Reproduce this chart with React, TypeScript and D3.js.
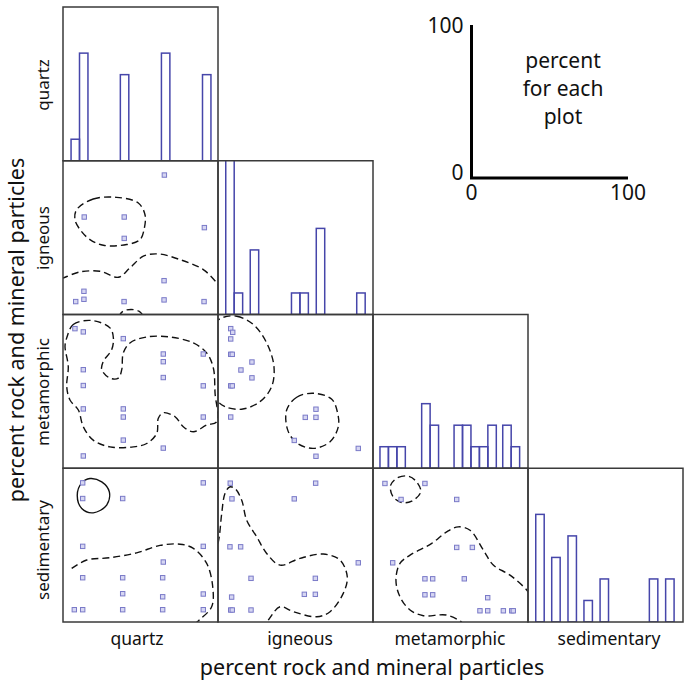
import React from "react";
import * as d3 from "d3";

// ---------- data ----------
const variables = ["quartz", "igneous", "metamorphic", "sedimentary"];
const axisTitle = "percent rock and mineral particles";
const keyTicks = ["0", "100"];
const keyLines = ["percent", "for each", "plot"];

// histograms: bin left edge (percent) and sample counts
const binWidth = 5.45;
const percentPerCount = 14;
const quartzBinStarts = [5.2, 10.65, 37, 63.5, 90];
const quartzCounts = [1, 5, 4, 5, 4];
const igneousBinStarts = [5, 10.45, 20.8, 47.4, 52.85, 63.4, 89.5];
const igneousCounts = [8, 1, 3, 1, 1, 4, 1];
const metamorphicBinStarts = [4.5, 9.95, 15.4, 31.4, 36.85, 52.3, 57.75, 63.2, 68.65, 74.1, 83.7, 89.15];
const metamorphicCounts = [1, 1, 1, 3, 2, 2, 2, 1, 1, 2, 2, 1];
const sedimentaryBinStarts = [5, 15.3, 25.8, 36.1, 46.5, 78.3, 88.8];
const sedimentaryCounts = [5, 3, 4, 1, 2, 2, 2];

// scatter points [x %, y %]
const igneousVsQuartz = [
  [65.4, 90.7], [13.7, 63.4], [39.5, 63.4], [39.5, 49.5], [91.2, 56.5], [65.2, 22],
  [13.5, 15.1], [8.2, 8.4], [13.5, 9.9], [39.4, 8.4], [65.2, 9.5], [91, 8.4],
];
const metamorphicVsQuartz = [
  [7.7, 90.8], [13.1, 88.7], [38.9, 84.3], [64.7, 74.3], [90.5, 74.3], [64.7, 69.3],
  [13.1, 64.1], [64.7, 59], [13.1, 53.8], [90.5, 53.6], [13.1, 38.6], [38.9, 38.6],
  [38.9, 33.3], [90.5, 33.3], [38.9, 18.3], [64.7, 13.1], [13.1, 8],
];
const metamorphicVsIgneous = [
  [8.2, 90.8], [9.5, 88.4], [8.2, 84.1], [8.2, 74.1], [9.2, 74.1], [21.9, 69.1],
  [14.8, 63.9], [21.9, 58.8], [8.2, 53.6], [9.2, 53.6], [8.2, 33.3], [63.2, 38.4],
  [56.3, 33.1], [63.2, 33.1], [49.2, 18.1], [90.5, 12.9], [63.2, 7.8],
];
const sedimentaryVsQuartz = [
  [12.7, 90.5], [90.5, 90.5], [12.7, 80.3], [38.5, 80.3], [12.7, 49.2], [90.5, 49.2],
  [64.7, 39], [12.7, 28.8], [38.5, 28.8], [64.3, 28.8], [38.5, 18.4], [64.3, 16.4],
  [90.5, 18.2], [7.3, 8], [12.7, 8], [38.5, 8], [64.3, 8], [90.5, 8],
];
const sedimentaryVsIgneous = [
  [7.9, 90.3], [63, 90.3], [9, 80.1], [49.2, 80.1], [7.7, 48.9], [14.6, 48.9],
  [90.5, 38.5], [21.3, 28.4], [62.8, 28.4], [55.7, 18], [62.8, 18], [8.8, 16.2],
  [8.2, 7.8], [9.2, 7.8], [21.3, 7.8],
];
const sedimentaryVsMetamorphic = [
  [7.7, 90.1], [33.5, 90.1], [18.1, 79.7], [54, 79.7], [54, 48.5], [64.1, 48.5],
  [12.7, 38.5], [33.5, 28.1], [38.5, 28.1], [58.9, 28.1], [33.5, 17.7], [38.5, 17.7],
  [74, 15.8], [69, 7.3], [74, 7.3], [84.1, 7.3], [89.5, 7.3], [90.5, 7.3],
];

// density contours [x %, y %]
const contourIgneousQuartzUpper = [
  [8.8, 68.2], [19.5, 75.1], [34.6, 76.2], [48.6, 72.5], [52.9, 64.9], [52.5, 56.3],
  [49.7, 48.7], [41.1, 45.5], [26, 45], [17.4, 48.7], [11, 55.2], [7.7, 61.7],
];
const contourIgneousQuartzLower = [
  [-1, 23.4], [0.2, 23.8], [11, 27.7], [23.9, 28.1], [35.7, 24.2], [43.2, 30.3], [51.8, 37.9],
  [61.5, 39.4], [75.5, 35.7], [90.5, 29.2], [99.2, 20.6], [101, 18],
];
const contourIgneousQuartzEdge = [
  [35.8, -1.5], [38.6, 2], [43.9, 3.3], [49.2, 2], [52.3, -1.5],
];
const contourMetamorphicQuartz = [
  [2.4, 84.8], [6.6, 93.5], [18.5, 96.1], [30.3, 91.3], [32.5, 84.8], [31.4, 77.1],
  [26, 69.5], [25, 64.1], [30.3, 58.6], [35.7, 58.6], [37.9, 64.1], [38.9, 75],
  [43.2, 81.5], [54, 85.4], [69, 85.4], [84.1, 81.5], [92.7, 75], [97, 65.2],
  [98.1, 48.8], [99.2, 30.3], [92.7, 28.1], [84.1, 23.7], [77.6, 27], [72.3, 33.5],
  [64.7, 36.1], [61.5, 32.5], [60.5, 22.7], [54, 16.1], [45.4, 13.9], [30.3, 13.9],
  [19.5, 18.3], [13.1, 27], [9.9, 37.9], [4.5, 44.4], [2.4, 53.1], [3.4, 66.2], [1.3, 79.3],
];
const contourMetamorphicIgneousUpper = [
  [2.4, 97.8], [12.1, 98.9], [22.8, 93.5], [31.4, 81.5], [36.1, 66.2], [34.6, 53.1],
  [27.1, 43.3], [15.3, 38.4], [4.5, 40.1], [-0.5, 44.4], [-3.9, 70.6], [-2.6, 93.5],
];
const contourMetamorphicIgneousLower = [
  [44.3, 37.9], [50.8, 46.2], [61.5, 48.8], [73.4, 44.9], [77.2, 35.8], [77.6, 27],
  [72.3, 17.2], [61.5, 12.9], [50.8, 16.5], [45, 24.8],
];
const contourSedimentaryQuartzSolid = [
  [17.4, 93.3], [25, 91.1], [29.9, 84.6], [28.2, 76], [19.5, 71], [12.1, 73.8],
  [9.2, 82.5], [12.1, 90.5],
];
const contourSedimentaryQuartzLower = [
  [5.6, 34.9], [15.3, 40.3], [30.3, 41.8], [47.5, 45], [62.6, 49.8], [75.5, 50.6],
  [84.1, 47.9], [92.7, 38.1], [96.6, 22.9], [95.9, 9.9], [87.9, 1.3], [81.9, -3.9],
];
const contourSedimentaryIgneous = [
  [-1.5, 44], [0.8, 55.4], [2.4, 70.6], [4.5, 83.6], [7.5, 87.8], [11, 86.8], [15.3, 79.2],
  [18.5, 66.2], [25, 55.4], [31.4, 44.6], [40, 37], [52.9, 41.4], [67.9, 44.2],
  [78.7, 40.3], [83.4, 29.4], [80.8, 18.6], [72.3, 6.7], [63.7, 3.4], [48.6, 6.7],
  [40, 9.9], [32.5, 1.3], [28.4, -3.9],
];
const contourSedimentaryMetamorphicSmall = [
  [11.4, 89], [16.3, 94], [22.8, 94.8], [28.2, 91.1], [30.8, 84.6], [25, 78.6],
  [18.5, 77.7], [12.7, 81.8],
];
const contourSedimentaryMetamorphicLarge = [
  [101, 18], [99.2, 20.8], [88.4, 30.5], [77.6, 37], [71.2, 46.8], [62.6, 59.7], [55, 61.9],
  [47.5, 58.6], [37.9, 51.1], [23.9, 43.5], [17.4, 38.1], [14.8, 27.3], [17.4, 16.4],
  [23.9, 7.8], [32.5, 4.1], [47.5, 4.5], [57.2, -0.2], [59, -3],
];

// ---------- layout ----------
const W = 686;
const H = 683;
const X0 = 63;
const CW = 155;
const Y0 = 7;
const RH = 153.75;
const FONT = "'Noto Sans', sans-serif";
const BAR = "#4646aa";
const PT_STROKE = "#7a7ac8";
const PT_FILL = "#d6d6f2";

const colScale = (c: number) => d3.scaleLinear().domain([0, 100]).range([X0 + c * CW, X0 + (c + 1) * CW]);
const rowScale = (r: number) => d3.scaleLinear().domain([0, 100]).range([Y0 + (r + 1) * RH, Y0 + r * RH]);

const histograms = [
  { starts: quartzBinStarts, counts: quartzCounts },
  { starts: igneousBinStarts, counts: igneousCounts },
  { starts: metamorphicBinStarts, counts: metamorphicCounts },
  { starts: sedimentaryBinStarts, counts: sedimentaryCounts },
];

const scatters = [
  { r: 1, c: 0, pts: igneousVsQuartz },
  { r: 2, c: 0, pts: metamorphicVsQuartz },
  { r: 2, c: 1, pts: metamorphicVsIgneous },
  { r: 3, c: 0, pts: sedimentaryVsQuartz },
  { r: 3, c: 1, pts: sedimentaryVsIgneous },
  { r: 3, c: 2, pts: sedimentaryVsMetamorphic },
];

const contours = [
  { r: 1, c: 0, pts: contourIgneousQuartzUpper, closed: true, solid: false },
  { r: 1, c: 0, pts: contourIgneousQuartzLower, closed: false, solid: false },
  { r: 1, c: 0, pts: contourIgneousQuartzEdge, closed: false, solid: false },
  { r: 2, c: 0, pts: contourMetamorphicQuartz, closed: true, solid: false },
  { r: 2, c: 1, pts: contourMetamorphicIgneousUpper, closed: true, solid: false },
  { r: 2, c: 1, pts: contourMetamorphicIgneousLower, closed: true, solid: false },
  { r: 3, c: 0, pts: contourSedimentaryQuartzSolid, closed: true, solid: true },
  { r: 3, c: 0, pts: contourSedimentaryQuartzLower, closed: false, solid: false },
  { r: 3, c: 1, pts: contourSedimentaryIgneous, closed: false, solid: false },
  { r: 3, c: 2, pts: contourSedimentaryMetamorphicSmall, closed: true, solid: false },
  { r: 3, c: 2, pts: contourSedimentaryMetamorphicLarge, closed: false, solid: false },
];

const rowLabelCenters = [85, 238, 392, 550];
const colLabelCenters = [137, 300, 450, 609];

export default function App() {
  const cells: { r: number; c: number }[] = [];
  for (let r = 0; r < 4; r++) for (let c = 0; c <= r; c++) cells.push({ r, c });

  return (
    <svg width={W} height={H} style={{ position: "absolute", left: 0, top: 0, background: "#fff" }}>
      <defs>
        {cells.map(({ r, c }) => (
          <clipPath key={`cp${r}${c}`} id={`clip-${r}-${c}`}>
            <rect x={X0 + c * CW} y={Y0 + r * RH} width={CW} height={RH} />
          </clipPath>
        ))}
      </defs>

      {/* histograms on diagonal */}
      {histograms.map((h, i) => {
        const x = colScale(i);
        const y = rowScale(i);
        return (
          <g key={`h${i}`} clipPath={`url(#clip-${i}-${i})`}>
            {h.starts.map((s, j) => (
              <rect
                key={j}
                x={x(s)}
                y={y(h.counts[j] * percentPerCount)}
                width={x(s + binWidth) - x(s)}
                height={y(0) - y(h.counts[j] * percentPerCount)}
                fill="none"
                stroke={BAR}
                strokeWidth={1.5}
              />
            ))}
          </g>
        );
      })}

      {/* contours */}
      {contours.map((ct, i) => {
        const x = colScale(ct.c);
        const y = rowScale(ct.r);
        const line = d3
          .line<number[]>()
          .x((d) => x(d[0]))
          .y((d) => y(d[1]))
          .curve(ct.closed ? d3.curveCatmullRomClosed.alpha(0.5) : d3.curveCatmullRom.alpha(0.5));
        return (
          <path
            key={`ct${i}`}
            d={line(ct.pts) || ""}
            fill="none"
            stroke="#111"
            strokeWidth={1.4}
            strokeDasharray={ct.solid ? undefined : "7 4"}
            clipPath={`url(#clip-${ct.r}-${ct.c})`}
          />
        );
      })}

      {/* scatter points */}
      {scatters.map((s, i) => {
        const x = colScale(s.c);
        const y = rowScale(s.r);
        return (
          <g key={`s${i}`}>
            {s.pts.map((p, j) => (
              <rect
                key={j}
                x={x(p[0]) - 2.2}
                y={y(p[1]) - 2.2}
                width={4.4}
                height={4.4}
                fill={PT_FILL}
                stroke={PT_STROKE}
                strokeWidth={1}
              />
            ))}
          </g>
        );
      })}

      {/* panel frames */}
      {cells.map(({ r, c }) => (
        <rect
          key={`f${r}${c}`}
          x={X0 + c * CW}
          y={Y0 + r * RH}
          width={CW}
          height={RH}
          fill="none"
          stroke="#3a3a3a"
          strokeWidth={1.5}
        />
      ))}

      {/* row labels */}
      {variables.map((v, i) => (
        <text
          key={`rl${i}`}
          transform={`translate(49,${rowLabelCenters[i]}) rotate(-90)`}
          textAnchor="middle"
          fontFamily={FONT}
          fontSize={17}
          fill="#111"
        >
          {v}
        </text>
      ))}
      {/* column labels */}
      {variables.map((v, i) => (
        <text
          key={`cl${i}`}
          x={colLabelCenters[i]}
          y={645}
          textAnchor="middle"
          fontFamily={FONT}
          fontSize={17.5}
          fill="#111"
        >
          {v}
        </text>
      ))}
      <text x={372} y={675} textAnchor="middle" fontFamily={FONT} fontSize={21.5} fill="#111">
        {axisTitle}
      </text>
      <text
        transform="translate(24,330) rotate(-90)"
        textAnchor="middle"
        fontFamily={FONT}
        fontSize={21.5}
        fill="#111"
      >
        {axisTitle}
      </text>

      {/* key */}
      {(() => {
        const kx = d3.scaleLinear().domain([0, 100]).range([471.5, 628]);
        const ky = d3.scaleLinear().domain([0, 100]).range([178, 25]);
        return (
          <g>
            <line x1={kx(0)} y1={ky(0)} x2={kx(0)} y2={ky(100)} stroke="#000" strokeWidth={3} />
            <line x1={kx(0) - 1.5} y1={ky(0)} x2={kx(100)} y2={ky(0)} stroke="#000" strokeWidth={3} />
            <text x={kx(0) - 8} y={ky(100) + 8} textAnchor="end" fontFamily={FONT} fontSize={21} fill="#111">
              {keyTicks[1]}
            </text>
            <text x={kx(0) - 8} y={ky(0) + 2} textAnchor="end" fontFamily={FONT} fontSize={21} fill="#111">
              {keyTicks[0]}
            </text>
            <text x={kx(0)} y={ky(0) + 22} textAnchor="middle" fontFamily={FONT} fontSize={21} fill="#111">
              {keyTicks[0]}
            </text>
            <text x={kx(100)} y={ky(0) + 22} textAnchor="middle" fontFamily={FONT} fontSize={21} fill="#111">
              {keyTicks[1]}
            </text>
            {keyLines.map((t, i) => (
              <text key={t} x={563} y={68 + i * 28} textAnchor="middle" fontFamily={FONT} fontSize={21} fill="#111">
                {t}
              </text>
            ))}
          </g>
        );
      })()}
    </svg>
  );
}
